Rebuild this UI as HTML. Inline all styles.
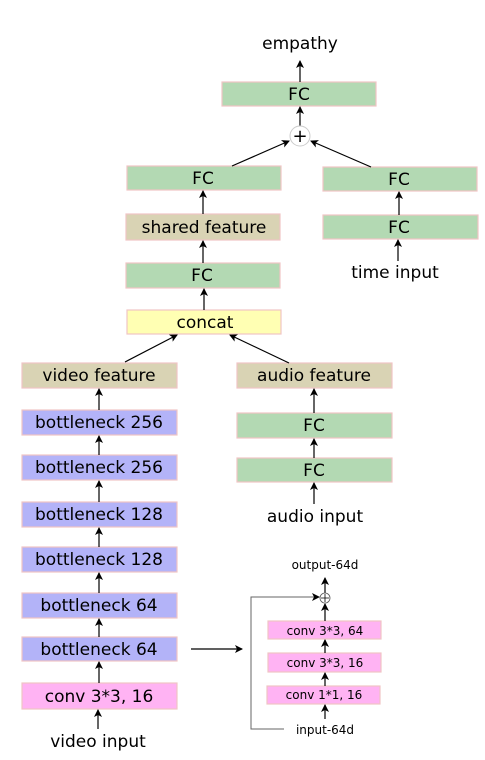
<!DOCTYPE html><html><head><style>body{margin:0;background:#fff}</style></head><body>
<svg width="485" height="755" xmlns="http://www.w3.org/2000/svg" font-family="DejaVu Sans, Liberation Sans, sans-serif">
<defs><marker id="a" markerWidth="8" markerHeight="8" refX="7" refY="4" orient="auto" markerUnits="userSpaceOnUse"><path d="M0,0 L8,4 L0,8 L2,4z" fill="#000"/></marker></defs>
<g stroke="#f0c4c4" stroke-width="1.2">
<rect x="222" y="82" width="154" height="24" fill="#b3d9b3"/>
<rect x="127" y="166" width="154" height="24" fill="#b3d9b3"/>
<rect x="323" y="167" width="154" height="24" fill="#b3d9b3"/>
<rect x="126" y="214" width="154" height="26" fill="#d9d3b4"/>
<rect x="323" y="215" width="155" height="24" fill="#b3d9b3"/>
<rect x="126" y="263" width="154" height="25" fill="#b3d9b3"/>
<rect x="127" y="310" width="154" height="24" fill="#ffffb3"/>
<rect x="22" y="363" width="155" height="25" fill="#d9d3b4"/>
<rect x="237" y="363" width="155" height="25" fill="#d9d3b4"/>
<rect x="237" y="413" width="155" height="25" fill="#b3d9b3"/>
<rect x="237" y="458" width="155" height="24" fill="#b3d9b3"/>
<rect x="22" y="410" width="155" height="25" fill="#b3b3f8"/>
<rect x="22" y="455" width="155" height="25" fill="#b3b3f8"/>
<rect x="22" y="502" width="155" height="25" fill="#b3b3f8"/>
<rect x="22" y="547" width="155" height="25" fill="#b3b3f8"/>
<rect x="22" y="593" width="155" height="25" fill="#b3b3f8"/>
<rect x="22" y="637" width="155" height="24" fill="#b3b3f8"/>
<rect x="22" y="683" width="155" height="26" fill="#ffb3f3"/>
<rect x="268" y="621" width="113" height="18" fill="#ffb3f3"/>
<rect x="268" y="653" width="113" height="19" fill="#ffb3f3"/>
<rect x="267" y="686" width="113" height="18" fill="#ffb3f3"/>
</g>
<g font-size="17" text-anchor="middle" fill="#000">
<text x="300" y="49">empathy</text>
<text x="299" y="100">FC</text>
<text x="203" y="184">FC</text>
<text x="399" y="185">FC</text>
<text x="204" y="233">shared feature</text>
<text x="399" y="233">FC</text>
<text x="395" y="278">time input</text>
<text x="202" y="281">FC</text>
<text x="205" y="328">concat</text>
<text x="99" y="381">video feature</text>
<text x="314" y="381">audio feature</text>
<text x="314" y="431">FC</text>
<text x="314" y="476">FC</text>
<text x="315" y="522">audio input</text>
<text x="99" y="428">bottleneck 256</text>
<text x="99" y="473">bottleneck 256</text>
<text x="99" y="520">bottleneck 128</text>
<text x="99" y="565">bottleneck 128</text>
<text x="99" y="611">bottleneck 64</text>
<text x="99" y="655">bottleneck 64</text>
<text x="99" y="702">conv 3*3, 16</text>
<text x="98" y="747">video input</text>
</g>
<g font-size="12" text-anchor="middle" fill="#000">
<text x="325" y="569">output-64d</text>
<text x="325" y="635">conv 3*3, 64</text>
<text x="325" y="667">conv 3*3, 16</text>
<text x="324" y="699">conv 1*1, 16</text>
<text x="325" y="734">input-64d</text>
</g>
<g stroke="#000" stroke-width="1.2" fill="none" marker-end="url(#a)">
<line x1="300" y1="82" x2="300" y2="61"/>
<line x1="300" y1="126" x2="300" y2="107"/>
<line x1="232" y1="166" x2="289" y2="141"/>
<line x1="371" y1="167" x2="311" y2="141"/>
<line x1="203" y1="214" x2="203" y2="191"/>
<line x1="399" y1="215" x2="399" y2="192"/>
<line x1="398" y1="261" x2="398" y2="240"/>
<line x1="203" y1="263" x2="203" y2="241"/>
<line x1="204" y1="310" x2="204" y2="289"/>
<line x1="125" y1="362" x2="177" y2="335"/>
<line x1="289" y1="363" x2="230" y2="335"/>
<line x1="314" y1="413" x2="314" y2="389"/>
<line x1="314" y1="458" x2="314" y2="439"/>
<line x1="314" y1="504" x2="314" y2="483"/>
<line x1="99" y1="410" x2="99" y2="389"/>
<line x1="99" y1="455" x2="99" y2="436"/>
<line x1="99" y1="502" x2="99" y2="481"/>
<line x1="99" y1="547" x2="99" y2="528"/>
<line x1="99" y1="593" x2="99" y2="573"/>
<line x1="99" y1="637" x2="99" y2="619"/>
<line x1="99" y1="683" x2="99" y2="662"/>
<line x1="98" y1="729" x2="98" y2="710"/>
<line x1="191" y1="649" x2="242" y2="649"/>
<line x1="325" y1="593" x2="325" y2="578"/>
<line x1="325" y1="621" x2="325" y2="604"/>
<line x1="325" y1="653" x2="325" y2="640"/>
<line x1="325" y1="686" x2="325" y2="673"/>
<line x1="325" y1="719" x2="325" y2="705"/>
<polyline points="284,729 251,729 251,597 319,597" stroke="#666" stroke-width="1"/>
</g>
<circle cx="300" cy="136" r="10" fill="#fff" stroke="#ccc"/>
<text x="300" y="142" font-size="18" text-anchor="middle">+</text>
<circle cx="325" cy="598" r="5" fill="#fff" stroke="#555" stroke-width="0.8"/>
<path d="M321,598h8M325,594v8" stroke="#000" stroke-width="0.8"/>
</svg></body></html>
